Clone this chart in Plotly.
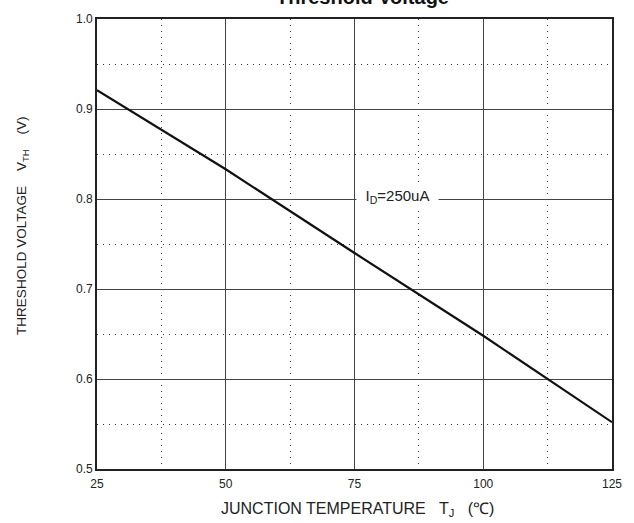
import plotly.graph_objects as go

# Data
temps = [25, 50, 75, 100, 125]
vth = [0.921, 0.833, 0.740, 0.648, 0.552]

x_ticks = [25, 50, 75, 100, 125]
x_minor = [37.5, 62.5, 87.5, 112.5]
y_ticks = [0.5, 0.6, 0.7, 0.8, 0.9, 1.0]
y_ticktext = ["0.5", "0.6", "0.7", "0.8", "0.9", "1.0"]
y_minor = [0.55, 0.65, 0.75, 0.85, 0.95]

FONT = "Liberation Sans, Arial, sans-serif"
NB = "\u00a0"

fig = go.Figure()
fig.add_trace(go.Scatter(x=temps, y=vth, mode="lines",
                         line=dict(color="#111111", width=2.2),
                         showlegend=False, hoverinfo="skip"))

axis_common = dict(
    showline=True, mirror=True, linecolor="#222222", linewidth=1.6,
    showgrid=True, gridcolor="#444444", gridwidth=1.4,
    zeroline=False, ticks="",
    tickfont=dict(family=FONT, size=12, color="#222222"),
)

fig.update_xaxes(range=[25, 125], tickvals=x_ticks, ticklabelstandoff=3,
                 minor=dict(tickvals=x_minor, showgrid=True, ticks="",
                            gridcolor="#3a3a3a", gridwidth=1.4,
                            griddash="1.4px,4.6px"),
                 **axis_common)
fig.update_yaxes(range=[0.5, 1.0], tickvals=y_ticks, ticktext=y_ticktext,
                 minor=dict(tickvals=y_minor, showgrid=True, ticks="",
                            gridcolor="#3a3a3a", gridwidth=1.4,
                            griddash="1.4px,4.6px"),
                 **axis_common)

annotations = [
    dict(text="<b>Threshold Voltage</b>", xref="paper", yref="paper",
         x=0.515, y=1.0, xanchor="center", yanchor="bottom", yshift=9,
         showarrow=False, font=dict(family=FONT, size=20, color="#111111")),
    dict(text="THRESHOLD VOLTAGE" + NB * 4 + "V<sub>TH</sub>" + NB * 4 + "(V)",
         xref="paper", yref="paper", x=-0.145, y=0.541, textangle=-90,
         xanchor="center", yanchor="middle", showarrow=False,
         font=dict(family=FONT, size=13.5, color="#222222")),
    dict(text="JUNCTION TEMPERATURE" + NB * 3 + "T<sub>J</sub>" + NB * 3 + "(℃)",
         xref="paper", yref="paper", x=0.505, y=-0.09,
         xanchor="center", yanchor="middle", showarrow=False,
         font=dict(family=FONT, size=16, color="#222222")),
    dict(text="I<sub>D</sub>=250uA", xref="x", yref="y", x=83.4, y=0.803,
         xanchor="center", yanchor="middle", showarrow=False,
         bgcolor="white", borderpad=4, width=73, height=19,
         font=dict(family=FONT, size=15, color="#222222")),
]

fig.update_layout(
    width=634, height=523,
    margin=dict(l=97, r=22, t=19, b=54),
    plot_bgcolor="white", paper_bgcolor="white",
    annotations=annotations,
)

fig.write_html("out.html", config={"displayModeBar": False},
               post_script="document.body.style.margin='0';")
